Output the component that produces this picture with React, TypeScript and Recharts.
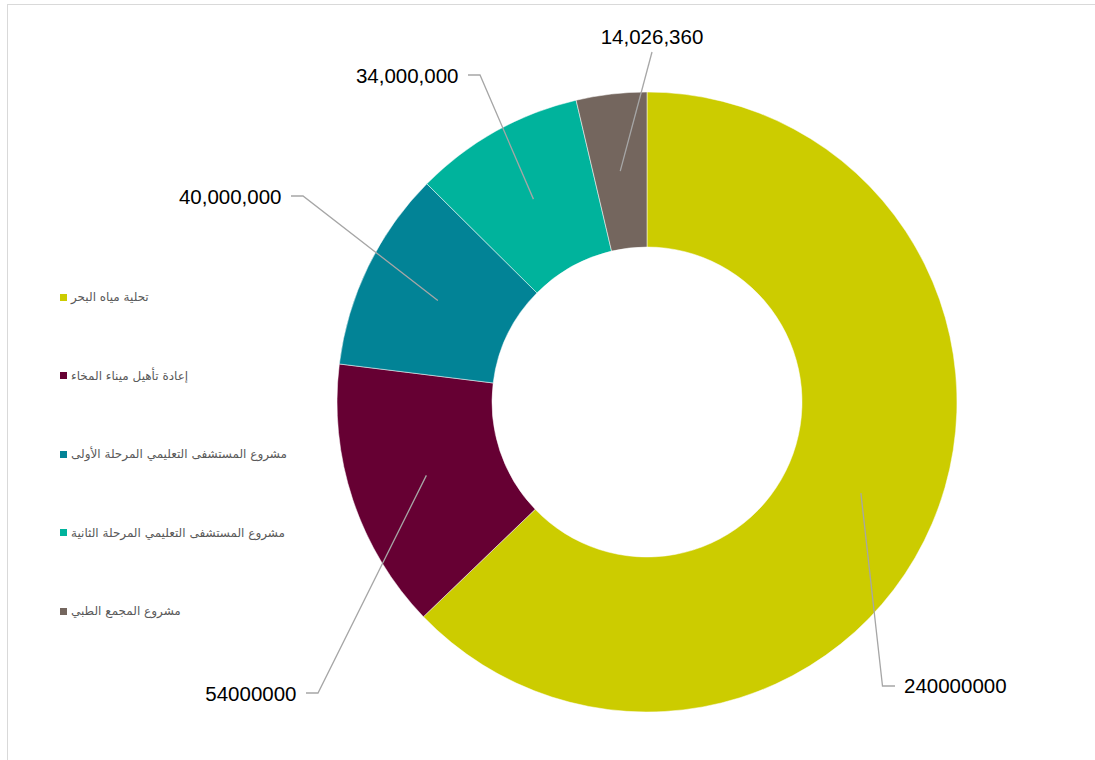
import React from "react";
import { PieChart, Pie, Cell } from "recharts";

const categories = [
  "تحلية مياه البحر",
  "إعادة تأهيل ميناء المخاء",
  "مشروع المستشفى التعليمي المرحلة الأولى",
  "مشروع المستشفى التعليمي المرحلة الثانية",
  "مشروع المجمع الطبي",
];
const values = [240000000, 54000000, 40000000, 34000000, 14026360];
const valueLabels = ["240000000", "54000000", "40,000,000", "34,000,000", "14,026,360"];
const colors = ["#cccc00", "#660033", "#028396", "#00b39c", "#74665e"];

// manual label placement (elbow offset from pie centre), like the original's hand-placed labels
const labelLayout = [
  { dx: 235.5, dy: 284, side: "right" },
  { dx: -329, dy: 291, side: "left" },
  { dx: -344, dy: -206, side: "left" },
  { dx: -167, dy: -327, side: "left" },
  { dx: 5, dy: -350, side: "top" },
];

const data = categories.map((name, i) => ({ name, value: values[i], label: valueLabels[i] }));

const RAD = Math.PI / 180;

const renderLabel = (props: any) => {
  const { cx, cy, midAngle, innerRadius, outerRadius, index } = props;
  const r = (innerRadius + outerRadius) / 2;
  const sx = cx + r * Math.cos(-midAngle * RAD);
  const sy = cy + r * Math.sin(-midAngle * RAD);
  const L = labelLayout[index];
  const ex = cx + L.dx;
  const ey = cy + L.dy;
  let d = `M${sx},${sy}L${ex},${ey}`;
  let tx = ex;
  let ty = ey;
  let anchor: any = "middle";
  if (L.side === "right") {
    d += `L${ex + 12.5},${ey}`;
    tx = ex + 21.5;
    anchor = "start";
  } else if (L.side === "left") {
    d += `L${ex - 12},${ey}`;
    tx = ex - 21.5;
    anchor = "end";
    ty = ey + 1;
  } else {
    ty = ey - 15;
  }
  return (
    <g key={`lbl-${index}`}>
      <path d={d} stroke="#a6a6a6" strokeWidth={1.3} fill="none" />
      <text
        x={tx}
        y={ty}
        dy="0.36em"
        textAnchor={anchor}
        fill="#000000"
        fontSize={20.5}
        fontFamily="Arial, 'Liberation Sans', sans-serif"
      >
        {data[index].label}
      </text>
    </g>
  );
};

export default function App() {
  return (
    <div
      style={{
        position: "fixed",
        left: 0,
        top: 0,
        width: 1095,
        height: 760,
        background: "#ffffff",
        overflow: "hidden",
      }}
    >
      <div
        style={{
          position: "absolute",
          left: 7,
          top: 4,
          width: 1100,
          height: 800,
          borderTop: "1px solid #d9d9d9",
          borderLeft: "1px solid #d9d9d9",
        }}
      />
      <div style={{ position: "absolute", left: 0, top: 0 }}>
        <PieChart width={1095} height={760} margin={{ top: 0, right: 0, bottom: 0, left: 0 }}>
          <Pie
            data={data}
            dataKey="value"
            nameKey="name"
            cx={647}
            cy={402}
            innerRadius={155}
            outerRadius={310}
            startAngle={90}
            endAngle={-270}
            stroke="#ffffff"
            strokeWidth={0.5}
            label={renderLabel}
            labelLine={false}
            isAnimationActive={false}
          >
            {data.map((d, i) => (
              <Cell key={d.name} fill={colors[i]} />
            ))}
          </Pie>
        </PieChart>
      </div>
      <div style={{ position: "absolute", left: 60, top: 288 }}>
        {data.map((d, i) => (
          <div
            key={d.name}
            style={{
              display: "flex",
              alignItems: "center",
              height: 18,
              marginBottom: i < data.length - 1 ? 60.5 : 0,
            }}
          >
            <div style={{ width: 7, height: 7, background: colors[i], marginRight: 4, flexShrink: 0 }} />
            <span
              dir="rtl"
              style={{
                fontFamily: "'DejaVu Sans', Arial, sans-serif",
                fontSize: 12,
                color: "#595959",
                whiteSpace: "nowrap",
              }}
            >
              {d.name}
            </span>
          </div>
        ))}
      </div>
    </div>
  );
}
